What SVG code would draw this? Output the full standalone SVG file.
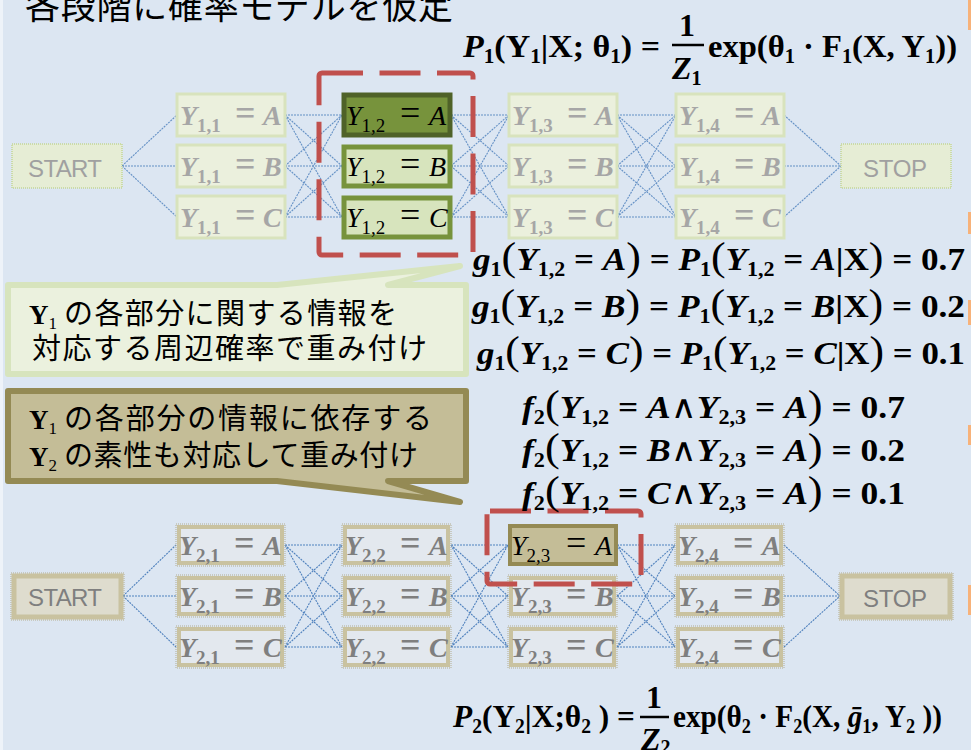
<svg xmlns="http://www.w3.org/2000/svg" width="971" height="750" viewBox="0 0 971 750">
<style>
.edge{fill:none;stroke:#4f81bd;stroke-width:1.1;stroke-dasharray:2 1}
.etop{opacity:.85}
.tf{fill:#ebf0dd;stroke:#d8e3bd;stroke-width:3}
.th1{fill:#77933c;stroke:#4f6228;stroke-width:5}
.th2{fill:#d7e4bd;stroke:#77933c;stroke-width:5}
.bo{fill:none;stroke:#b3ad90;stroke-width:1;stroke-dasharray:1 1}
.bf{fill:#e3e8ee;stroke:#c9c2a0;stroke-width:4}
.bh{fill:#c4bd97;stroke:#948a54;stroke-width:4}
.se{fill:#e6edd5;stroke:#cbdba8;stroke-width:2;stroke-dasharray:1 1}
.be{fill:#dedcce;stroke:#c9c2a0;stroke-width:5}
.red{fill:none;stroke:#c0504d;stroke-width:5;stroke-dasharray:41 16.5}
.m{font-family:"Liberation Serif","DejaVu Serif",serif}
.nl{font-size:28px}
.ft{fill:#a6a6a6;font-weight:bold}
.fb{fill:#7f7f7f;font-weight:bold}
.hk{fill:#000}
.it{font-style:italic}
.sb{font-size:19px}
.eq{font-size:36px}
.ss{font-family:"Liberation Sans","Open Sans",sans-serif;font-size:24px}
.fm{font-family:"Liberation Serif","DejaVu Serif",serif;font-size:32px;font-weight:bold;fill:#000}
.i{font-style:italic}
.s{font-size:20px}
.bp{font-size:40px;font-weight:normal}
.w{font-weight:normal}
.cj{font-family:"Noto Sans CJK JP","Noto Sans CJK SC",sans-serif;font-size:29px;fill:#000}
.yb{font-family:"Liberation Serif",serif;font-weight:bold;font-size:27px}
.ys{font-family:"Liberation Serif",serif;font-size:17px}
</style>
<rect x="0" y="0" width="971" height="750" fill="#dce6f2"/>
<rect x="0" y="0" width="3" height="750" fill="#eef3f9"/>
<g id="edge-strips" fill="#f7b27a">
<rect x="968" y="0" width="3" height="30"/>
<rect x="968" y="212" width="3" height="22"/>
<rect x="968" y="300" width="3" height="25"/>
<rect x="968" y="425" width="3" height="20"/>
<rect x="968" y="585" width="3" height="30"/>
</g>
<text id="title" class="cj" x="25" y="19" style="font-size:35px" textLength="428" lengthAdjust="spacing">各段階に確率モデルを仮定</text>

<g id="connectors">
<path class="edge etop" d="M122 166L177 115M122 166L177 166M122 166L177 217"/>
<path class="edge etop" d="M285 115L342 115M285 115L342 166M285 115L342 217M285 166L342 115M285 166L342 166M285 166L342 217M285 217L342 115M285 217L342 166M285 217L342 217"/>
<path class="edge etop" d="M451 115L509 115M451 115L509 166M451 115L509 217M451 166L509 115M451 166L509 166M451 166L509 217M451 217L509 115M451 217L509 166M451 217L509 217"/>
<path class="edge etop" d="M617 115L676 115M617 115L676 166M617 115L676 217M617 166L676 115M617 166L676 166M617 166L676 217M617 217L676 115M617 217L676 166M617 217L676 217"/>
<path class="edge etop" d="M784 115L841 166M784 166L841 166M784 217L841 166"/>
<path class="edge" d="M123 596L176 545M123 596L176 596M123 596L176 647"/>
<path class="edge" d="M285 545L342 545M285 545L342 596M285 545L342 647M285 596L342 545M285 596L342 596M285 596L342 647M285 647L342 545M285 647L342 596M285 647L342 647"/>
<path class="edge" d="M451 545L508 545M451 545L508 596M451 545L508 647M451 596L508 545M451 596L508 596M451 596L508 647M451 647L508 545M451 647L508 596M451 647L508 647"/>
<path class="edge" d="M617 545L675 545M617 545L675 596M617 545L675 647M617 596L675 545M617 596L675 596M617 596L675 647M617 647L675 545M617 647L675 596M617 647L675 647"/>
<path class="edge" d="M784 545L840 596M784 596L840 596M784 647L840 596"/>
</g>

<g id="start1"><rect class="se" x="12" y="144" width="110" height="44"/><text class="ss" x="28" y="177" fill="#a0a0a0" textLength="74">START</text></g>
<g id="stop1"><rect class="se" x="841" y="144" width="110" height="44"/><text class="ss" x="863" y="177" fill="#a0a0a0" textLength="64">STOP</text></g>

<g id="y11a"><rect class="tf" x="177" y="94" width="108" height="42"/><text class="m nl ft" x="180" y="125"><tspan class="it">Y</tspan><tspan class="sb" dy="7">1,1</tspan><tspan class="eq" x="235" dy="-7">=</tspan><tspan class="it" x="263">A</tspan></text></g>
<g id="y11b"><rect class="tf" x="177" y="145" width="108" height="42"/><text class="m nl ft" x="180" y="176"><tspan class="it">Y</tspan><tspan class="sb" dy="7">1,1</tspan><tspan class="eq" x="235" dy="-7">=</tspan><tspan class="it" x="263">B</tspan></text></g>
<g id="y11c"><rect class="tf" x="177" y="196" width="108" height="42"/><text class="m nl ft" x="180" y="227"><tspan class="it">Y</tspan><tspan class="sb" dy="7">1,1</tspan><tspan class="eq" x="235" dy="-7">=</tspan><tspan class="it" x="263">C</tspan></text></g>

<g id="y12a"><rect class="th1" x="344" y="95" width="106" height="40"/><text class="m nl hk" x="346" y="125"><tspan class="it">Y</tspan><tspan class="sb" dy="7">1,2</tspan><tspan class="eq" x="400" dy="-7">=</tspan><tspan class="it" x="429">A</tspan></text></g>
<g id="y12b"><rect class="th2" x="344" y="147" width="106" height="39"/><text class="m nl hk" x="346" y="176"><tspan class="it">Y</tspan><tspan class="sb" dy="7">1,2</tspan><tspan class="eq" x="400" dy="-7">=</tspan><tspan class="it" x="429">B</tspan></text></g>
<g id="y12c"><rect class="th2" x="344" y="198" width="106" height="39"/><text class="m nl hk" x="346" y="227"><tspan class="it">Y</tspan><tspan class="sb" dy="7">1,2</tspan><tspan class="eq" x="400" dy="-7">=</tspan><tspan class="it" x="429">C</tspan></text></g>

<g id="y13a"><rect class="tf" x="509" y="94" width="108" height="42"/><text class="m nl ft" x="512" y="125"><tspan class="it">Y</tspan><tspan class="sb" dy="7">1,3</tspan><tspan class="eq" x="567" dy="-7">=</tspan><tspan class="it" x="595">A</tspan></text></g>
<g id="y13b"><rect class="tf" x="509" y="145" width="108" height="42"/><text class="m nl ft" x="512" y="176"><tspan class="it">Y</tspan><tspan class="sb" dy="7">1,3</tspan><tspan class="eq" x="567" dy="-7">=</tspan><tspan class="it" x="595">B</tspan></text></g>
<g id="y13c"><rect class="tf" x="509" y="196" width="108" height="42"/><text class="m nl ft" x="512" y="227"><tspan class="it">Y</tspan><tspan class="sb" dy="7">1,3</tspan><tspan class="eq" x="567" dy="-7">=</tspan><tspan class="it" x="595">C</tspan></text></g>

<g id="y14a"><rect class="tf" x="676" y="94" width="108" height="42"/><text class="m nl ft" x="679" y="125"><tspan class="it">Y</tspan><tspan class="sb" dy="7">1,4</tspan><tspan class="eq" x="734" dy="-7">=</tspan><tspan class="it" x="762">A</tspan></text></g>
<g id="y14b"><rect class="tf" x="676" y="145" width="108" height="42"/><text class="m nl ft" x="679" y="176"><tspan class="it">Y</tspan><tspan class="sb" dy="7">1,4</tspan><tspan class="eq" x="734" dy="-7">=</tspan><tspan class="it" x="762">B</tspan></text></g>
<g id="y14c"><rect class="tf" x="676" y="196" width="108" height="42"/><text class="m nl ft" x="679" y="227"><tspan class="it">Y</tspan><tspan class="sb" dy="7">1,4</tspan><tspan class="eq" x="734" dy="-7">=</tspan><tspan class="it" x="762">C</tspan></text></g>

<g id="redbox1"><rect class="red" x="319" y="73" width="154" height="182" rx="3"/></g>

<g id="start2"><rect class="bo" x="11" y="573" width="113" height="47"/><rect class="be" x="14" y="576" width="107" height="41"/><text class="ss" x="28" y="606" fill="#7f7f7f" textLength="74">START</text></g>
<g id="stop2"><rect class="bo" x="839" y="573" width="114" height="47"/><rect class="be" x="842" y="576" width="108" height="41"/><text class="ss" x="863" y="607" fill="#7f7f7f" textLength="64">STOP</text></g>

<g id="y21a"><rect class="bo" x="176" y="524" width="109" height="42"/><rect class="bf" x="179" y="527" width="103" height="36"/><text class="m nl fb" x="179" y="555"><tspan class="it">Y</tspan><tspan class="sb" dy="7">2,1</tspan><tspan class="eq" x="234" dy="-7">=</tspan><tspan class="it" x="263">A</tspan></text></g>
<g id="y21b"><rect class="bo" x="176" y="575" width="109" height="42"/><rect class="bf" x="179" y="578" width="103" height="36"/><text class="m nl fb" x="179" y="606"><tspan class="it">Y</tspan><tspan class="sb" dy="7">2,1</tspan><tspan class="eq" x="234" dy="-7">=</tspan><tspan class="it" x="263">B</tspan></text></g>
<g id="y21c"><rect class="bo" x="176" y="626" width="109" height="42"/><rect class="bf" x="179" y="629" width="103" height="36"/><text class="m nl fb" x="179" y="657"><tspan class="it">Y</tspan><tspan class="sb" dy="7">2,1</tspan><tspan class="eq" x="234" dy="-7">=</tspan><tspan class="it" x="263">C</tspan></text></g>

<g id="y22a"><rect class="bo" x="342" y="524" width="109" height="42"/><rect class="bf" x="345" y="527" width="103" height="36"/><text class="m nl fb" x="345" y="555"><tspan class="it">Y</tspan><tspan class="sb" dy="7">2,2</tspan><tspan class="eq" x="400" dy="-7">=</tspan><tspan class="it" x="429">A</tspan></text></g>
<g id="y22b"><rect class="bo" x="342" y="575" width="109" height="42"/><rect class="bf" x="345" y="578" width="103" height="36"/><text class="m nl fb" x="345" y="606"><tspan class="it">Y</tspan><tspan class="sb" dy="7">2,2</tspan><tspan class="eq" x="400" dy="-7">=</tspan><tspan class="it" x="429">B</tspan></text></g>
<g id="y22c"><rect class="bo" x="342" y="626" width="109" height="42"/><rect class="bf" x="345" y="629" width="103" height="36"/><text class="m nl fb" x="345" y="657"><tspan class="it">Y</tspan><tspan class="sb" dy="7">2,2</tspan><tspan class="eq" x="400" dy="-7">=</tspan><tspan class="it" x="429">C</tspan></text></g>

<g id="y23a"><rect class="bh" x="510" y="526" width="106" height="38"/><text class="m nl hk" x="511" y="555"><tspan class="it">Y</tspan><tspan class="sb" dy="7">2,3</tspan><tspan class="eq" x="566" dy="-7">=</tspan><tspan class="it" x="595">A</tspan></text></g>
<g id="y23b"><rect class="bo" x="508" y="575" width="109" height="42"/><rect class="bf" x="511" y="578" width="103" height="36"/><text class="m nl fb" x="511" y="606"><tspan class="it">Y</tspan><tspan class="sb" dy="7">2,3</tspan><tspan class="eq" x="566" dy="-7">=</tspan><tspan class="it" x="595">B</tspan></text></g>
<g id="y23c"><rect class="bo" x="508" y="626" width="109" height="42"/><rect class="bf" x="511" y="629" width="103" height="36"/><text class="m nl fb" x="511" y="657"><tspan class="it">Y</tspan><tspan class="sb" dy="7">2,3</tspan><tspan class="eq" x="566" dy="-7">=</tspan><tspan class="it" x="595">C</tspan></text></g>

<g id="y24a"><rect class="bo" x="675" y="524" width="109" height="42"/><rect class="bf" x="678" y="527" width="103" height="36"/><text class="m nl fb" x="678" y="555"><tspan class="it">Y</tspan><tspan class="sb" dy="7">2,4</tspan><tspan class="eq" x="733" dy="-7">=</tspan><tspan class="it" x="762">A</tspan></text></g>
<g id="y24b"><rect class="bo" x="675" y="575" width="109" height="42"/><rect class="bf" x="678" y="578" width="103" height="36"/><text class="m nl fb" x="678" y="606"><tspan class="it">Y</tspan><tspan class="sb" dy="7">2,4</tspan><tspan class="eq" x="733" dy="-7">=</tspan><tspan class="it" x="762">B</tspan></text></g>
<g id="y24c"><rect class="bo" x="675" y="626" width="109" height="42"/><rect class="bf" x="678" y="629" width="103" height="36"/><text class="m nl fb" x="678" y="657"><tspan class="it">Y</tspan><tspan class="sb" dy="7">2,4</tspan><tspan class="eq" x="733" dy="-7">=</tspan><tspan class="it" x="762">C</tspan></text></g>

<g id="redbox2"><rect class="red" x="487" y="511" width="154" height="73" rx="3"/></g>

<g id="callout1">
<path d="M8 285H277L460 266L388 285H466V374H8Z" fill="#ebf1de" stroke="#d7e4bd" stroke-width="6" stroke-linejoin="round"/>
<text x="29" y="324"><tspan class="yb">Y</tspan><tspan class="ys" dy="5">1</tspan></text>
<text class="cj" x="64" y="324" textLength="333" lengthAdjust="spacing">の各部分に関する情報を</text>
<text class="cj" x="32" y="359" textLength="395" lengthAdjust="spacing">対応する周辺確率で重み付け</text>
</g>
<g id="callout2">
<path d="M8 391H466V481H388L460 502L277 481H8Z" fill="#c4bd97" stroke="#948a54" stroke-width="6" stroke-linejoin="round"/>
<text x="29" y="429"><tspan class="yb">Y</tspan><tspan class="ys" dy="5">1</tspan></text>
<text class="cj" x="64" y="429" textLength="368" lengthAdjust="spacing">の各部分の情報に依存する</text>
<text x="29" y="466"><tspan class="yb">Y</tspan><tspan class="ys" dy="5">2</tspan></text>
<text class="cj" x="64" y="466" textLength="354" lengthAdjust="spacing">の素性も対応して重み付け</text>
</g>

<g id="formula-p1">
<text class="fm" x="463" y="57" textLength="197" lengthAdjust="spacingAndGlyphs"><tspan class="i">P</tspan><tspan class="s" dy="6">1</tspan><tspan dy="-6">(Y</tspan><tspan class="s" dy="6">1</tspan><tspan dy="-6">|X; θ</tspan><tspan class="s" dy="6">1</tspan><tspan dy="-6">) =</tspan></text>
<text class="fm" x="687" y="36" text-anchor="middle">1</text>
<line x1="672" y1="45" x2="704" y2="45" stroke="#000" stroke-width="2.5"/>
<text class="fm" x="672" y="79"><tspan class="i">Z</tspan><tspan class="s" dy="6">1</tspan></text>
<text class="fm" x="708" y="57" textLength="249" lengthAdjust="spacingAndGlyphs">exp(θ<tspan class="s" dy="6">1</tspan><tspan dy="-6"> · F</tspan><tspan class="s" dy="6">1</tspan><tspan dy="-6">(X, Y</tspan><tspan class="s" dy="6">1</tspan><tspan dy="-6">))</tspan></text>
</g>

<g id="formula-g">
<text class="fm" x="473" y="270" textLength="492" lengthAdjust="spacingAndGlyphs"><tspan class="i">g</tspan><tspan class="s" dy="6">1</tspan><tspan class="bp" dy="-6">(</tspan><tspan class="i">Y</tspan><tspan class="s" dy="6">1,2</tspan><tspan dy="-6"> = </tspan><tspan class="i">A</tspan><tspan class="bp">)</tspan> = <tspan class="i">P</tspan><tspan class="s" dy="6">1</tspan><tspan class="bp" dy="-6">(</tspan><tspan class="i">Y</tspan><tspan class="s" dy="6">1,2</tspan><tspan dy="-6"> = </tspan><tspan class="i">A</tspan>|X<tspan class="bp">)</tspan> = 0.7</text>
<text class="fm" x="472" y="317" textLength="493" lengthAdjust="spacingAndGlyphs"><tspan class="i">g</tspan><tspan class="s" dy="6">1</tspan><tspan class="bp" dy="-6">(</tspan><tspan class="i">Y</tspan><tspan class="s" dy="6">1,2</tspan><tspan dy="-6"> = </tspan><tspan class="i">B</tspan><tspan class="bp">)</tspan> = <tspan class="i">P</tspan><tspan class="s" dy="6">1</tspan><tspan class="bp" dy="-6">(</tspan><tspan class="i">Y</tspan><tspan class="s" dy="6">1,2</tspan><tspan dy="-6"> = </tspan><tspan class="i">B</tspan>|X<tspan class="bp">)</tspan> = 0.2</text>
<text class="fm" x="477" y="364" textLength="488" lengthAdjust="spacingAndGlyphs"><tspan class="i">g</tspan><tspan class="s" dy="6">1</tspan><tspan class="bp" dy="-6">(</tspan><tspan class="i">Y</tspan><tspan class="s" dy="6">1,2</tspan><tspan dy="-6"> = </tspan><tspan class="i">C</tspan><tspan class="bp">)</tspan> = <tspan class="i">P</tspan><tspan class="s" dy="6">1</tspan><tspan class="bp" dy="-6">(</tspan><tspan class="i">Y</tspan><tspan class="s" dy="6">1,2</tspan><tspan dy="-6"> = </tspan><tspan class="i">C</tspan>|X<tspan class="bp">)</tspan> = 0.1</text>
</g>

<g id="formula-f">
<text class="fm" x="522" y="418" textLength="383" lengthAdjust="spacingAndGlyphs"><tspan class="i">f</tspan><tspan class="s" dy="6">2</tspan><tspan class="bp" dy="-6">(</tspan><tspan class="i">Y</tspan><tspan class="s" dy="6">1,2</tspan><tspan dy="-6"> = </tspan><tspan class="i">A</tspan><tspan class="w">∧</tspan><tspan class="i">Y</tspan><tspan class="s" dy="6">2,3</tspan><tspan dy="-6"> = </tspan><tspan class="i">A</tspan><tspan class="bp">)</tspan> = 0.7</text>
<text class="fm" x="522" y="461" textLength="383" lengthAdjust="spacingAndGlyphs"><tspan class="i">f</tspan><tspan class="s" dy="6">2</tspan><tspan class="bp" dy="-6">(</tspan><tspan class="i">Y</tspan><tspan class="s" dy="6">1,2</tspan><tspan dy="-6"> = </tspan><tspan class="i">B</tspan><tspan class="w">∧</tspan><tspan class="i">Y</tspan><tspan class="s" dy="6">2,3</tspan><tspan dy="-6"> = </tspan><tspan class="i">A</tspan><tspan class="bp">)</tspan> = 0.2</text>
<text class="fm" x="522" y="504" textLength="383" lengthAdjust="spacingAndGlyphs"><tspan class="i">f</tspan><tspan class="s" dy="6">2</tspan><tspan class="bp" dy="-6">(</tspan><tspan class="i">Y</tspan><tspan class="s" dy="6">1,2</tspan><tspan dy="-6"> = </tspan><tspan class="i">C</tspan><tspan class="w">∧</tspan><tspan class="i">Y</tspan><tspan class="s" dy="6">2,3</tspan><tspan dy="-6"> = </tspan><tspan class="i">A</tspan><tspan class="bp">)</tspan> = 0.1</text>
</g>

<g id="formula-p2">
<text class="fm" x="453" y="727" textLength="182" lengthAdjust="spacingAndGlyphs"><tspan class="i">P</tspan><tspan class="s" dy="6">2</tspan><tspan dy="-6">(Y</tspan><tspan class="s" dy="6">2</tspan><tspan dy="-6">|X;θ</tspan><tspan class="s" dy="6">2</tspan><tspan dy="-6"> ) =</tspan></text>
<text class="fm" x="654" y="708" text-anchor="middle">1</text>
<line x1="640" y1="717" x2="669" y2="717" stroke="#000" stroke-width="2.5"/>
<text class="fm" x="641" y="750"><tspan class="i">Z</tspan><tspan class="s" dy="4">2</tspan></text>
<text class="fm" x="673" y="727" textLength="269" lengthAdjust="spacingAndGlyphs">exp(θ<tspan class="s" dy="6">2</tspan><tspan dy="-6"> · F</tspan><tspan class="s" dy="6">2</tspan><tspan dy="-6">(X, </tspan><tspan class="i">ḡ</tspan><tspan class="s" dy="6">1</tspan><tspan dy="-6">, Y</tspan><tspan class="s" dy="6">2</tspan><tspan dy="-6"> ))</tspan></text>
</g>
</svg>
